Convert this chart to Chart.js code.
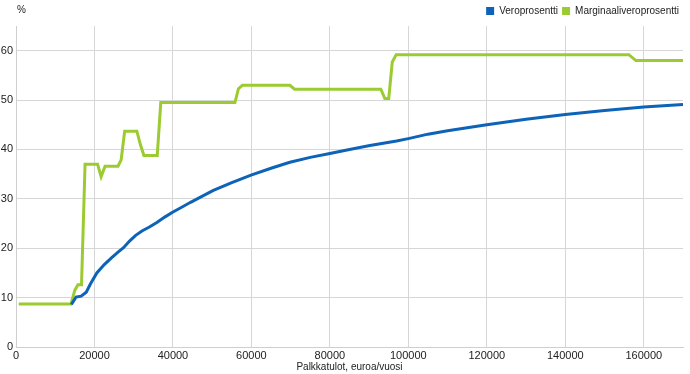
<!DOCTYPE html>
<html>
<head>
<meta charset="utf-8">
<script src="https://cdn.jsdelivr.net/npm/chart.js@4/dist/chart.umd.min.js"></script>
<style>
html,body{margin:0;padding:0;background:#fff;}
#wrap{width:690px;height:374px;position:relative;}
</style>
</head>
<body>
<div id="wrap"><canvas id="c" width="690" height="374"></canvas></div>
<script>
// Marginal tax rate (green)
const margX = [700, 14000, 15000, 15800, 16700, 17600, 20800, 21700, 22700, 26000, 26800, 27700, 30800, 31700, 32600, 36000, 36900, 55800, 56700, 57700, 69800, 71000, 93000, 94000, 95000, 95900, 96900, 156200, 158000, 170000];
const margY = [8.7, 8.7, 11.5, 12.6, 12.6, 37.0, 37.0, 34.5, 36.6, 36.6, 37.9, 43.7, 43.7, 41.0, 38.8, 38.8, 49.5, 49.5, 52.3, 53.0, 53.0, 52.2, 52.2, 50.3, 50.3, 57.7, 59.2, 59.2, 58.0, 58.0];
// Tax rate (blue)
const taxX = [14100, 15300, 16600, 17900, 19000, 20600, 22500, 24400, 26000, 27400, 29000, 30500, 32100, 34000, 35900, 37900, 39900, 42000, 44500, 46900, 50300, 55000, 59900, 65000, 69800, 75000, 80000, 85000, 90200, 97000, 100000, 105000, 110000, 120000, 130000, 140000, 150000, 160000, 170000];
const taxY = [8.6, 10.1, 10.3, 11.1, 12.8, 15.0, 16.7, 18.1, 19.2, 20.1, 21.5, 22.6, 23.5, 24.3, 25.2, 26.3, 27.3, 28.2, 29.3, 30.3, 31.7, 33.3, 34.8, 36.2, 37.4, 38.4, 39.2, 40.0, 40.8, 41.7, 42.2, 43.1, 43.8, 45.0, 46.1, 47.1, 47.9, 48.6, 49.1];
const xTicks = [0, 20000, 40000, 60000, 80000, 100000, 120000, 140000, 160000];
const yTicks = [0, 10, 20, 30, 40, 50, 60];
const seriesNames = ['Veroprosentti', 'Marginaaliveroprosentti'];
const xTitle = 'Palkkatulot, euroa/vuosi';
const yUnit = '%';

const BLUE = '#0d63b8';
const GREEN = '#9bcb30';
const FONT = 'Liberation Sans, Arial, sans-serif';

const toPts = (xs, ys) => xs.map((x, i) => ({x: x, y: ys[i]}));

const unitPlugin = {
  id: 'unitLabel',
  afterDraw(chart) {
    const ctx = chart.ctx;
    ctx.save();
    ctx.font = '10px ' + FONT;
    ctx.fillStyle = '#222';
    ctx.textBaseline = 'middle';
    ctx.textAlign = 'left';
    ctx.fillText(yUnit, 17, 10);
    ctx.restore();
  }
};

new Chart(document.getElementById('c'), {
  type: 'line',
  data: {
    datasets: [
      {label: seriesNames[0], data: toPts(taxX, taxY), borderColor: BLUE, backgroundColor: BLUE, borderWidth: 3, pointRadius: 0, tension: 0, order: 1},
      {label: seriesNames[1], data: toPts(margX, margY), borderColor: GREEN, backgroundColor: GREEN, borderWidth: 3, pointRadius: 0, tension: 0, order: 2}
    ]
  },
  options: {
    responsive: false,
    animation: false,
    devicePixelRatio: 1,
    layout: {padding: {top: 2, right: 7, left: 0, bottom: 0}},
    plugins: {
      tooltip: {enabled: false},
      legend: {
        position: 'top',
        align: 'end',
        labels: {
          boxWidth: 8,
          boxHeight: 8,
          padding: 4,
          color: '#222',
          font: {family: FONT, size: 10},
          generateLabels(chart) {
            return Chart.defaults.plugins.legend.labels.generateLabels(chart).map(l => Object.assign(l, {lineWidth: 0}));
          }
        }
      }
    },
    scales: {
      x: {
        type: 'linear',
        min: 0,
        max: 170000,
        afterBuildTicks(scale) { scale.ticks = xTicks.map(v => ({value: v})); },
        ticks: {color: '#222', font: {family: FONT, size: 11}, padding: 2, maxRotation: 0, autoSkip: false, callback: v => String(v)},
        grid: {color: '#d6d6d6', drawTicks: false},
        border: {color: '#cfcfcf'},
        title: {display: true, text: xTitle, color: '#222', font: {family: FONT, size: 10}, padding: {top: 0, bottom: 1}},
        afterFit(scale) { scale.height = 27; }
      },
      y: {
        min: 0,
        max: 65,
        afterBuildTicks(scale) { scale.ticks = yTicks.map(v => ({value: v})); },
        ticks: {color: '#222', font: {family: FONT, size: 11}, padding: 3, autoSkip: false},
        grid: {color: '#d6d6d6', drawTicks: false},
        border: {color: '#cfcfcf'},
        afterFit(scale) { scale.width = 16; }
      }
    }
  },
  plugins: [unitPlugin]
});
</script>
</body>
</html>
